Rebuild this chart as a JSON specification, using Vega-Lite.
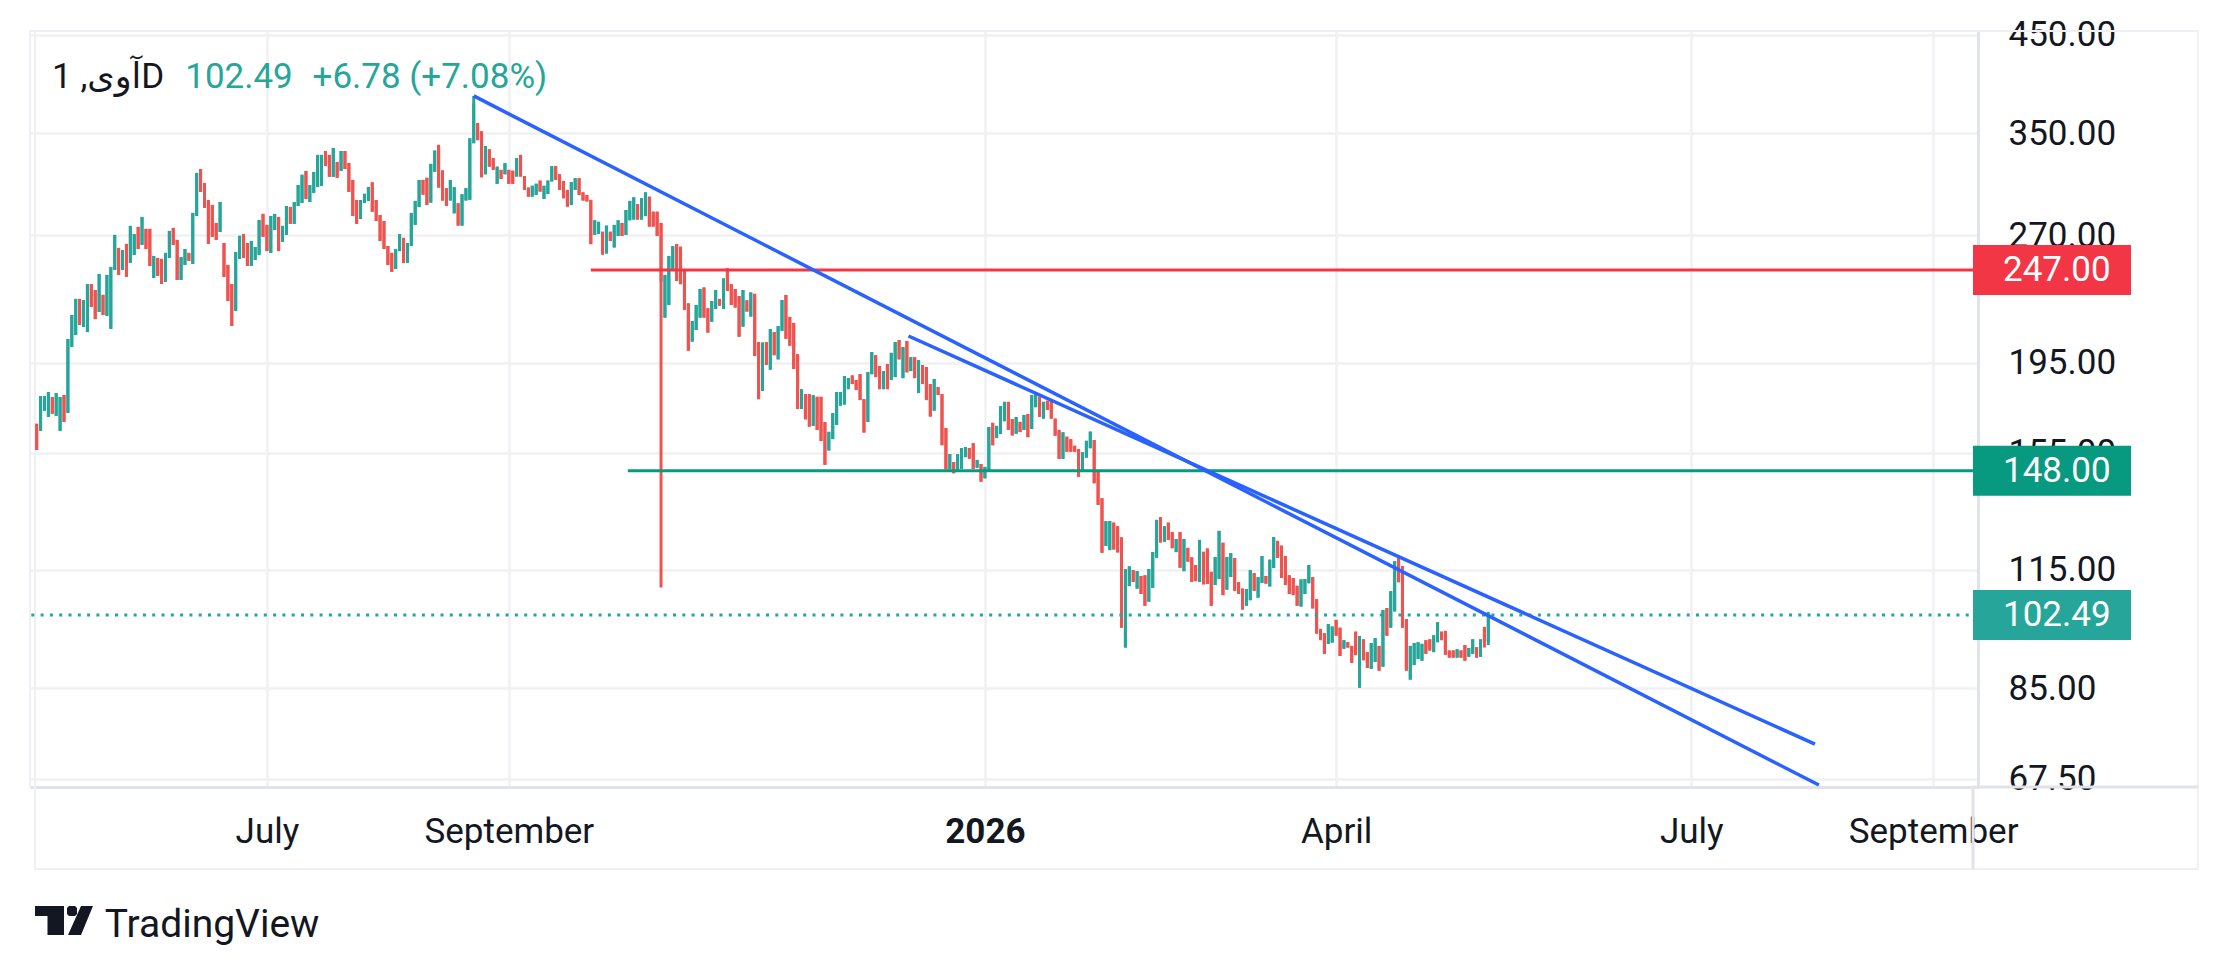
{
  "$schema": "https://vega.github.io/schema/vega-lite/v6.json",
  "width": 1948,
  "height": 756,
  "autosize": "none",
  "padding": {"left": 30, "top": 31, "right": 257, "bottom": 188},
  "background": "#ffffff",
  "config": {
    "font": "Roboto, DejaVu Sans, sans-serif",
    "view": {"stroke": "#eef0f4", "strokeWidth": 2},
    "axis": {
      "labelFont": "Roboto",
      "labelFontSize": 35,
      "labelColor": "#131722",
      "gridColor": "#f0f1f4",
      "gridWidth": 2.5,
      "domainColor": "#e0e3eb",
      "domainWidth": 3,
      "ticks": false,
      "tickSize": 0
    }
  },
  "datasets": {
    "bars": [
      {"date":"2025-05-03","open":166.9,"high":166.9,"low":156.1,"close":156.1},
      {"date":"2025-05-04","open":163.9,"high":179.1,"low":163.9,"close":179.1},
      {"date":"2025-05-05","open":172.5,"high":179.1,"low":172.5,"close":179.1},
      {"date":"2025-05-06","open":169.9,"high":181.0,"low":169.9,"close":181.0},
      {"date":"2025-05-07","open":178.7,"high":178.7,"low":171.2,"close":171.2},
      {"date":"2025-05-08","open":170.3,"high":180.5,"low":170.3,"close":180.5},
      {"date":"2025-05-09","open":163.9,"high":178.7,"low":163.9,"close":178.7},
      {"date":"2025-05-10","open":179.6,"high":179.6,"low":167.7,"close":167.7},
      {"date":"2025-05-11","open":171.6,"high":207.2,"low":171.6,"close":207.2},
      {"date":"2025-05-12","open":203.1,"high":220.3,"low":203.1,"close":220.3},
      {"date":"2025-05-13","open":209.3,"high":229.5,"low":209.3,"close":229.5},
      {"date":"2025-05-14","open":229.5,"high":229.5,"low":214.8,"close":214.8},
      {"date":"2025-05-15","open":213.7,"high":228.9,"low":213.7,"close":228.9},
      {"date":"2025-05-16","open":210.9,"high":238.4,"low":210.9,"close":238.4},
      {"date":"2025-05-17","open":238.4,"high":238.4,"low":224.9,"close":224.9},
      {"date":"2025-05-18","open":234.8,"high":234.8,"low":218.0,"close":218.0},
      {"date":"2025-05-19","open":222.0,"high":244.6,"low":222.0,"close":244.6},
      {"date":"2025-05-20","open":231.9,"high":231.9,"low":220.3,"close":220.3},
      {"date":"2025-05-21","open":219.7,"high":244.0,"low":219.7,"close":244.0},
      {"date":"2025-05-22","open":212.6,"high":249.0,"low":212.6,"close":249.0},
      {"date":"2025-05-23","open":247.1,"high":270.2,"low":247.1,"close":270.2},
      {"date":"2025-05-24","open":261.4,"high":261.4,"low":244.0,"close":244.0},
      {"date":"2025-05-25","open":247.1,"high":260.0,"low":247.1,"close":260.0},
      {"date":"2025-05-26","open":264.1,"high":264.1,"low":242.8,"close":242.8},
      {"date":"2025-05-27","open":251.6,"high":276.5,"low":251.6,"close":276.5},
      {"date":"2025-05-28","open":256.8,"high":270.8,"low":256.8,"close":270.8},
      {"date":"2025-05-29","open":275.8,"high":275.8,"low":260.7,"close":260.7},
      {"date":"2025-05-30","open":263.4,"high":282.9,"low":263.4,"close":282.9},
      {"date":"2025-05-31","open":274.4,"high":274.4,"low":260.7,"close":260.7},
      {"date":"2025-06-01","open":274.4,"high":274.4,"low":249.6,"close":249.6},
      {"date":"2025-06-02","open":242.1,"high":256.1,"low":242.1,"close":256.1},
      {"date":"2025-06-03","open":254.8,"high":254.8,"low":243.4,"close":243.4},
      {"date":"2025-06-04","open":254.2,"high":254.2,"low":238.4,"close":238.4},
      {"date":"2025-06-05","open":239.6,"high":258.1,"low":239.6,"close":258.1},
      {"date":"2025-06-06","open":254.8,"high":273.0,"low":254.8,"close":273.0},
      {"date":"2025-06-07","open":275.1,"high":275.1,"low":263.4,"close":263.4},
      {"date":"2025-06-08","open":266.8,"high":266.8,"low":240.9,"close":240.9},
      {"date":"2025-06-09","open":240.9,"high":255.4,"low":240.9,"close":255.4},
      {"date":"2025-06-10","open":250.3,"high":260.7,"low":250.3,"close":260.7},
      {"date":"2025-06-11","open":258.1,"high":258.1,"low":252.9,"close":252.9},
      {"date":"2025-06-12","open":250.9,"high":285.8,"low":250.9,"close":285.8},
      {"date":"2025-06-13","open":283.6,"high":316.5,"low":283.6,"close":316.5},
      {"date":"2025-06-14","open":319.7,"high":319.7,"low":301.5,"close":301.5},
      {"date":"2025-06-15","open":308.5,"high":308.5,"low":289.5,"close":289.5},
      {"date":"2025-06-16","open":295.4,"high":295.4,"low":264.1,"close":264.1},
      {"date":"2025-06-17","open":291.7,"high":291.7,"low":268.9,"close":268.9},
      {"date":"2025-06-18","open":278.6,"high":278.6,"low":266.8,"close":266.8},
      {"date":"2025-06-19","open":272.2,"high":293.9,"low":272.2,"close":293.9},
      {"date":"2025-06-20","open":264.7,"high":264.7,"low":242.8,"close":242.8},
      {"date":"2025-06-21","open":250.3,"high":250.3,"low":228.3,"close":228.3},
      {"date":"2025-06-22","open":238.4,"high":238.4,"low":214.2,"close":214.2},
      {"date":"2025-06-23","open":222.5,"high":258.7,"low":222.5,"close":258.7},
      {"date":"2025-06-24","open":254.2,"high":269.6,"low":254.2,"close":269.6},
      {"date":"2025-06-25","open":270.8,"high":270.8,"low":254.8,"close":254.8},
      {"date":"2025-06-26","open":264.7,"high":264.7,"low":249.6,"close":249.6},
      {"date":"2025-06-27","open":249.6,"high":266.1,"low":249.6,"close":266.1},
      {"date":"2025-06-28","open":253.5,"high":262.0,"low":253.5,"close":262.0},
      {"date":"2025-06-29","open":256.8,"high":280.7,"low":256.8,"close":280.7},
      {"date":"2025-06-30","open":285.1,"high":285.1,"low":268.9,"close":268.9},
      {"date":"2025-07-01","open":277.2,"high":277.2,"low":259.3,"close":259.3},
      {"date":"2025-07-02","open":258.1,"high":283.6,"low":258.1,"close":283.6},
      {"date":"2025-07-03","open":273.7,"high":285.1,"low":273.7,"close":285.1},
      {"date":"2025-07-04","open":282.9,"high":282.9,"low":259.3,"close":259.3},
      {"date":"2025-07-05","open":265.4,"high":276.5,"low":265.4,"close":276.5},
      {"date":"2025-07-06","open":270.2,"high":290.9,"low":270.2,"close":290.9},
      {"date":"2025-07-07","open":290.2,"high":290.2,"low":277.9,"close":277.9},
      {"date":"2025-07-08","open":277.9,"high":293.9,"low":277.9,"close":293.9},
      {"date":"2025-07-09","open":290.9,"high":306.9,"low":290.9,"close":306.9},
      {"date":"2025-07-10","open":293.2,"high":315.0,"low":293.2,"close":315.0},
      {"date":"2025-07-11","open":318.1,"high":318.1,"low":296.1,"close":296.1},
      {"date":"2025-07-12","open":293.9,"high":306.9,"low":293.9,"close":306.9},
      {"date":"2025-07-13","open":300.8,"high":317.3,"low":300.8,"close":317.3},
      {"date":"2025-07-14","open":305.4,"high":331.4,"low":305.4,"close":331.4},
      {"date":"2025-07-15","open":306.2,"high":331.4,"low":306.2,"close":331.4},
      {"date":"2025-07-16","open":334.7,"high":334.7,"low":322.1,"close":322.1},
      {"date":"2025-07-17","open":331.4,"high":331.4,"low":313.4,"close":313.4},
      {"date":"2025-07-18","open":313.4,"high":337.3,"low":313.4,"close":337.3},
      {"date":"2025-07-19","open":325.5,"high":325.5,"low":312.6,"close":312.6},
      {"date":"2025-07-20","open":318.1,"high":334.7,"low":318.1,"close":334.7},
      {"date":"2025-07-21","open":334.7,"high":334.7,"low":319.7,"close":319.7},
      {"date":"2025-07-22","open":324.6,"high":324.6,"low":301.5,"close":301.5},
      {"date":"2025-07-23","open":310.9,"high":310.9,"low":283.6,"close":283.6},
      {"date":"2025-07-24","open":295.4,"high":295.4,"low":277.9,"close":277.9},
      {"date":"2025-07-25","open":281.4,"high":295.4,"low":281.4,"close":295.4},
      {"date":"2025-07-26","open":293.2,"high":300.1,"low":293.2,"close":300.1},
      {"date":"2025-07-27","open":294.7,"high":305.4,"low":294.7,"close":305.4},
      {"date":"2025-07-28","open":309.0,"high":309.0,"low":286.6,"close":286.6},
      {"date":"2025-07-29","open":295.4,"high":295.4,"low":280.0,"close":280.0},
      {"date":"2025-07-30","open":284.3,"high":284.3,"low":266.1,"close":266.1},
      {"date":"2025-07-31","open":280.0,"high":280.0,"low":260.7,"close":260.7},
      {"date":"2025-08-01","open":262.7,"high":262.7,"low":250.3,"close":250.3},
      {"date":"2025-08-02","open":258.1,"high":258.1,"low":245.9,"close":245.9},
      {"date":"2025-08-03","open":247.7,"high":260.7,"low":247.7,"close":260.7},
      {"date":"2025-08-04","open":259.3,"high":270.8,"low":259.3,"close":270.8},
      {"date":"2025-08-05","open":268.2,"high":268.2,"low":251.6,"close":251.6},
      {"date":"2025-08-06","open":251.6,"high":264.7,"low":251.6,"close":264.7},
      {"date":"2025-08-07","open":262.7,"high":285.8,"low":262.7,"close":285.8},
      {"date":"2025-08-08","open":277.2,"high":294.7,"low":277.2,"close":294.7},
      {"date":"2025-08-09","open":290.2,"high":310.9,"low":290.2,"close":310.9},
      {"date":"2025-08-10","open":310.9,"high":310.9,"low":299.4,"close":299.4},
      {"date":"2025-08-11","open":312.6,"high":312.6,"low":291.7,"close":291.7},
      {"date":"2025-08-12","open":293.4,"high":323.9,"low":293.4,"close":323.9},
      {"date":"2025-08-13","open":317.4,"high":335.1,"low":317.4,"close":335.1},
      {"date":"2025-08-14","open":340.0,"high":340.0,"low":304.9,"close":304.9},
      {"date":"2025-08-15","open":318.5,"high":318.5,"low":295.0,"close":295.0},
      {"date":"2025-08-16","open":304.4,"high":304.4,"low":290.9,"close":290.9},
      {"date":"2025-08-17","open":295.0,"high":310.9,"low":295.0,"close":310.9},
      {"date":"2025-08-18","open":285.5,"high":305.2,"low":285.5,"close":305.2},
      {"date":"2025-08-19","open":292.9,"high":292.9,"low":276.7,"close":276.7},
      {"date":"2025-08-20","open":276.7,"high":299.7,"low":276.7,"close":299.7},
      {"date":"2025-08-21","open":295.0,"high":304.4,"low":295.0,"close":304.4},
      {"date":"2025-08-22","open":295.5,"high":345.7,"low":295.5,"close":345.7},
      {"date":"2025-08-23","open":341.4,"high":385.2,"low":341.4,"close":378.0},
      {"date":"2025-08-24","open":359.5,"high":359.5,"low":344.1,"close":344.1},
      {"date":"2025-08-25","open":352.0,"high":352.0,"low":313.0,"close":313.0},
      {"date":"2025-08-26","open":315.4,"high":338.9,"low":315.4,"close":338.9},
      {"date":"2025-08-27","open":336.2,"high":336.2,"low":321.6,"close":321.6},
      {"date":"2025-08-28","open":328.6,"high":328.6,"low":319.0,"close":319.0},
      {"date":"2025-08-29","open":307.8,"high":321.6,"low":307.8,"close":321.6},
      {"date":"2025-08-30","open":319.0,"high":319.0,"low":311.7,"close":311.7},
      {"date":"2025-08-31","open":315.4,"high":324.4,"low":315.4,"close":324.4},
      {"date":"2025-09-01","open":319.0,"high":319.0,"low":307.8,"close":307.8},
      {"date":"2025-09-02","open":318.3,"high":318.3,"low":307.8,"close":307.8},
      {"date":"2025-09-03","open":313.6,"high":328.6,"low":313.6,"close":328.6},
      {"date":"2025-09-04","open":331.4,"high":331.4,"low":313.6,"close":313.6},
      {"date":"2025-09-05","open":314.0,"high":314.0,"low":303.0,"close":303.0},
      {"date":"2025-09-06","open":304.9,"high":304.9,"low":297.9,"close":297.9},
      {"date":"2025-09-07","open":297.9,"high":306.3,"low":297.9,"close":306.3},
      {"date":"2025-09-08","open":299.2,"high":307.9,"low":299.2,"close":307.9},
      {"date":"2025-09-09","open":310.4,"high":310.4,"low":301.8,"close":301.8},
      {"date":"2025-09-10","open":296.2,"high":306.3,"low":296.2,"close":306.3},
      {"date":"2025-09-11","open":300.0,"high":310.4,"low":300.0,"close":310.4},
      {"date":"2025-09-12","open":309.7,"high":322.0,"low":309.7,"close":322.0},
      {"date":"2025-09-13","open":322.0,"high":322.0,"low":310.9,"close":310.9},
      {"date":"2025-09-14","open":315.4,"high":315.4,"low":303.1,"close":303.1},
      {"date":"2025-09-15","open":310.1,"high":310.1,"low":296.7,"close":296.7},
      {"date":"2025-09-16","open":303.1,"high":303.1,"low":290.4,"close":290.4},
      {"date":"2025-09-17","open":291.6,"high":309.2,"low":291.6,"close":309.2},
      {"date":"2025-09-18","open":303.1,"high":312.3,"low":303.1,"close":312.3},
      {"date":"2025-09-19","open":312.3,"high":312.3,"low":299.2,"close":299.2},
      {"date":"2025-09-20","open":301.2,"high":301.2,"low":295.0,"close":295.0},
      {"date":"2025-09-21","open":299.2,"high":299.2,"low":294.3,"close":294.3},
      {"date":"2025-09-22","open":295.5,"high":295.5,"low":263.9,"close":263.9},
      {"date":"2025-09-23","open":270.2,"high":280.5,"low":270.2,"close":280.5},
      {"date":"2025-09-24","open":270.9,"high":279.4,"low":270.9,"close":279.4},
      {"date":"2025-09-25","open":272.4,"high":272.4,"low":257.0,"close":257.0},
      {"date":"2025-09-26","open":257.7,"high":276.7,"low":257.7,"close":276.7},
      {"date":"2025-09-27","open":272.4,"high":272.4,"low":266.0,"close":266.0},
      {"date":"2025-09-28","open":261.7,"high":277.2,"low":261.7,"close":277.2},
      {"date":"2025-09-29","open":269.5,"high":280.5,"low":269.5,"close":280.5},
      {"date":"2025-09-30","open":278.6,"high":278.6,"low":269.5,"close":269.5},
      {"date":"2025-10-01","open":270.2,"high":287.9,"low":270.2,"close":287.9},
      {"date":"2025-10-02","open":280.5,"high":294.7,"low":280.5,"close":294.7},
      {"date":"2025-10-03","open":281.0,"high":297.4,"low":281.0,"close":297.4},
      {"date":"2025-10-04","open":292.4,"high":292.4,"low":281.0,"close":281.0},
      {"date":"2025-10-05","open":281.0,"high":296.7,"low":281.0,"close":296.7},
      {"date":"2025-10-06","open":283.5,"high":301.2,"low":283.5,"close":301.2},
      {"date":"2025-10-07","open":297.9,"high":297.9,"low":276.0,"close":276.0},
      {"date":"2025-10-08","open":286.7,"high":286.7,"low":276.0,"close":276.0},
      {"date":"2025-10-09","open":286.7,"high":286.7,"low":269.5,"close":269.5},
      {"date":"2025-10-10","open":278.6,"high":278.6,"low":109.9,"close":240.0},
      {"date":"2025-10-11","open":218.8,"high":244.0,"low":218.8,"close":244.0},
      {"date":"2025-10-12","open":226.0,"high":256.1,"low":226.0,"close":256.1},
      {"date":"2025-10-13","open":247.1,"high":262.6,"low":247.1,"close":262.6},
      {"date":"2025-10-14","open":264.0,"high":264.0,"low":240.2,"close":240.2},
      {"date":"2025-10-15","open":262.2,"high":262.2,"low":238.3,"close":238.3},
      {"date":"2025-10-16","open":247.1,"high":247.1,"low":223.1,"close":223.1},
      {"date":"2025-10-17","open":226.9,"high":226.9,"low":201.1,"close":201.1},
      {"date":"2025-10-18","open":205.8,"high":216.9,"low":205.8,"close":216.9},
      {"date":"2025-10-19","open":212.0,"high":226.0,"low":212.0,"close":226.0},
      {"date":"2025-10-20","open":218.8,"high":235.4,"low":218.8,"close":235.4},
      {"date":"2025-10-21","open":236.3,"high":236.3,"low":218.8,"close":218.8},
      {"date":"2025-10-22","open":224.1,"high":224.1,"low":210.6,"close":210.6},
      {"date":"2025-10-23","open":216.5,"high":228.3,"low":216.5,"close":228.3},
      {"date":"2025-10-24","open":223.7,"high":234.8,"low":223.7,"close":234.8},
      {"date":"2025-10-25","open":229.5,"high":229.5,"low":225.6,"close":225.6},
      {"date":"2025-10-26","open":223.7,"high":241.8,"low":223.7,"close":241.8},
      {"date":"2025-10-27","open":248.1,"high":248.1,"low":234.2,"close":234.2},
      {"date":"2025-10-28","open":238.3,"high":238.3,"low":226.0,"close":226.0},
      {"date":"2025-10-29","open":235.4,"high":235.4,"low":224.5,"close":224.5},
      {"date":"2025-10-30","open":231.2,"high":231.2,"low":208.4,"close":208.4},
      {"date":"2025-10-31","open":213.8,"high":234.8,"low":213.8,"close":234.8},
      {"date":"2025-11-01","open":228.7,"high":228.7,"low":222.2,"close":222.2},
      {"date":"2025-11-02","open":219.4,"high":233.3,"low":219.4,"close":233.3},
      {"date":"2025-11-03","open":232.5,"high":232.5,"low":198.4,"close":198.4},
      {"date":"2025-11-04","open":205.6,"high":205.6,"low":177.7,"close":177.7},
      {"date":"2025-11-05","open":181.5,"high":205.3,"low":181.5,"close":205.3},
      {"date":"2025-11-06","open":205.6,"high":205.6,"low":193.9,"close":193.9},
      {"date":"2025-11-07","open":191.6,"high":212.5,"low":191.6,"close":212.5},
      {"date":"2025-11-08","open":210.9,"high":210.9,"low":198.8,"close":198.8},
      {"date":"2025-11-09","open":196.7,"high":214.1,"low":196.7,"close":214.1},
      {"date":"2025-11-10","open":211.6,"high":228.9,"low":211.6,"close":228.9},
      {"date":"2025-11-11","open":231.8,"high":231.8,"low":207.3,"close":207.3},
      {"date":"2025-11-12","open":219.2,"high":219.2,"low":203.7,"close":203.7},
      {"date":"2025-11-13","open":215.9,"high":215.9,"low":191.9,"close":191.9},
      {"date":"2025-11-14","open":199.3,"high":199.3,"low":173.3,"close":173.3},
      {"date":"2025-11-15","open":173.3,"high":182.3,"low":173.3,"close":182.3},
      {"date":"2025-11-16","open":180.0,"high":180.0,"low":168.8,"close":168.8},
      {"date":"2025-11-17","open":180.0,"high":180.0,"low":165.7,"close":165.7},
      {"date":"2025-11-18","open":166.0,"high":179.5,"low":166.0,"close":179.5},
      {"date":"2025-11-19","open":178.8,"high":178.8,"low":164.3,"close":164.3},
      {"date":"2025-11-20","open":178.8,"high":178.8,"low":159.7,"close":159.7},
      {"date":"2025-11-21","open":167.6,"high":167.6,"low":150.3,"close":150.3},
      {"date":"2025-11-22","open":155.9,"high":163.5,"low":155.9,"close":163.5},
      {"date":"2025-11-23","open":160.5,"high":171.5,"low":160.5,"close":171.5},
      {"date":"2025-11-24","open":166.4,"high":181.0,"low":166.4,"close":181.0},
      {"date":"2025-11-25","open":174.8,"high":181.0,"low":174.8,"close":181.0},
      {"date":"2025-11-26","open":175.3,"high":188.5,"low":175.3,"close":188.5},
      {"date":"2025-11-27","open":182.3,"high":187.5,"low":182.3,"close":187.5},
      {"date":"2025-11-28","open":188.8,"high":188.8,"low":184.7,"close":184.7},
      {"date":"2025-11-29","open":186.6,"high":186.6,"low":181.9,"close":181.9},
      {"date":"2025-11-30","open":189.4,"high":189.4,"low":177.3,"close":177.3},
      {"date":"2025-12-01","open":177.7,"high":177.7,"low":163.2,"close":163.2},
      {"date":"2025-12-02","open":167.7,"high":190.4,"low":167.7,"close":190.4},
      {"date":"2025-12-03","open":189.4,"high":200.4,"low":189.4,"close":200.4},
      {"date":"2025-12-04","open":198.8,"high":198.8,"low":188.0,"close":188.0},
      {"date":"2025-12-05","open":193.4,"high":193.4,"low":182.3,"close":182.3},
      {"date":"2025-12-06","open":182.3,"high":190.9,"low":182.3,"close":190.9},
      {"date":"2025-12-07","open":194.4,"high":194.4,"low":182.3,"close":182.3},
      {"date":"2025-12-08","open":186.6,"high":200.0,"low":186.6,"close":200.0},
      {"date":"2025-12-09","open":188.0,"high":205.6,"low":188.0,"close":205.6},
      {"date":"2025-12-10","open":206.6,"high":206.6,"low":196.7,"close":196.7},
      {"date":"2025-12-11","open":187.5,"high":203.0,"low":187.5,"close":203.0},
      {"date":"2025-12-12","open":206.1,"high":206.1,"low":190.3,"close":190.3},
      {"date":"2025-12-13","open":190.9,"high":197.8,"low":190.9,"close":197.8},
      {"date":"2025-12-14","open":197.8,"high":197.8,"low":187.5,"close":187.5},
      {"date":"2025-12-15","open":180.5,"high":196.3,"low":180.5,"close":196.3},
      {"date":"2025-12-16","open":193.9,"high":193.9,"low":184.7,"close":184.7},
      {"date":"2025-12-17","open":192.9,"high":192.9,"low":177.3,"close":177.3},
      {"date":"2025-12-18","open":184.7,"high":184.7,"low":170.0,"close":170.0},
      {"date":"2025-12-19","open":172.6,"high":187.1,"low":172.6,"close":187.1},
      {"date":"2025-12-20","open":183.3,"high":183.3,"low":179.6,"close":179.6},
      {"date":"2025-12-21","open":180.0,"high":180.0,"low":158.0,"close":158.0},
      {"date":"2025-12-22","open":165.1,"high":165.1,"low":148.6,"close":148.6},
      {"date":"2025-12-23","open":148.6,"high":154.5,"low":148.6,"close":154.5},
      {"date":"2025-12-24","open":151.4,"high":151.4,"low":147.1,"close":147.1},
      {"date":"2025-12-25","open":148.1,"high":154.5,"low":148.1,"close":154.5},
      {"date":"2025-12-26","open":148.8,"high":156.9,"low":148.8,"close":156.9},
      {"date":"2025-12-27","open":153.3,"high":157.3,"low":153.3,"close":157.3},
      {"date":"2025-12-28","open":156.9,"high":156.9,"low":152.7,"close":152.7},
      {"date":"2025-12-29","open":158.8,"high":158.8,"low":148.7,"close":148.7},
      {"date":"2025-12-30","open":149.2,"high":152.2,"low":149.2,"close":152.2},
      {"date":"2025-12-31","open":150.6,"high":150.6,"low":144.0,"close":144.0},
      {"date":"2026-01-01","open":145.2,"high":149.5,"low":145.2,"close":149.5},
      {"date":"2026-01-02","open":148.3,"high":165.5,"low":148.3,"close":165.5},
      {"date":"2026-01-03","open":167.3,"high":167.3,"low":158.0,"close":158.0},
      {"date":"2026-01-04","open":160.9,"high":166.0,"low":160.9,"close":166.0},
      {"date":"2026-01-05","open":162.6,"high":174.6,"low":162.6,"close":174.6},
      {"date":"2026-01-06","open":168.0,"high":176.5,"low":168.0,"close":176.5},
      {"date":"2026-01-07","open":176.5,"high":176.5,"low":164.3,"close":164.3},
      {"date":"2026-01-08","open":168.9,"high":168.9,"low":162.0,"close":162.0},
      {"date":"2026-01-09","open":162.7,"high":169.8,"low":162.7,"close":169.8},
      {"date":"2026-01-10","open":167.7,"high":167.7,"low":163.4,"close":163.4},
      {"date":"2026-01-11","open":164.3,"high":170.7,"low":164.3,"close":170.7},
      {"date":"2026-01-12","open":171.1,"high":171.1,"low":161.3,"close":161.3},
      {"date":"2026-01-13","open":164.7,"high":179.6,"low":164.7,"close":179.6},
      {"date":"2026-01-14","open":174.1,"high":180.0,"low":174.1,"close":180.0},
      {"date":"2026-01-15","open":178.8,"high":178.8,"low":169.9,"close":169.9},
      {"date":"2026-01-16","open":169.1,"high":176.5,"low":169.1,"close":176.5},
      {"date":"2026-01-17","open":177.0,"high":177.0,"low":172.9,"close":172.9},
      {"date":"2026-01-18","open":177.0,"high":177.0,"low":169.1,"close":169.1},
      {"date":"2026-01-19","open":169.1,"high":169.1,"low":161.9,"close":161.9},
      {"date":"2026-01-20","open":164.3,"high":164.3,"low":152.6,"close":152.6},
      {"date":"2026-01-21","open":152.6,"high":163.3,"low":152.6,"close":163.3},
      {"date":"2026-01-22","open":161.5,"high":161.5,"low":155.4,"close":155.4},
      {"date":"2026-01-23","open":160.5,"high":160.5,"low":155.4,"close":155.4},
      {"date":"2026-01-24","open":157.8,"high":157.8,"low":155.4,"close":155.4},
      {"date":"2026-01-25","open":156.5,"high":156.5,"low":145.8,"close":145.8},
      {"date":"2026-01-26","open":147.7,"high":155.2,"low":147.7,"close":155.2},
      {"date":"2026-01-27","open":153.1,"high":159.8,"low":153.1,"close":159.8},
      {"date":"2026-01-28","open":156.8,"high":163.6,"low":156.8,"close":163.6},
      {"date":"2026-01-29","open":160.1,"high":160.1,"low":143.4,"close":143.4},
      {"date":"2026-01-30","open":147.6,"high":147.6,"low":135.7,"close":135.7},
      {"date":"2026-01-31","open":138.0,"high":138.0,"low":120.1,"close":120.1},
      {"date":"2026-02-01","open":122.2,"high":130.2,"low":122.2,"close":130.2},
      {"date":"2026-02-02","open":120.9,"high":130.2,"low":120.9,"close":130.2},
      {"date":"2026-02-03","open":129.7,"high":129.7,"low":121.1,"close":121.1},
      {"date":"2026-02-04","open":128.5,"high":128.5,"low":120.2,"close":120.2},
      {"date":"2026-02-05","open":124.9,"high":124.9,"low":99.2,"close":99.2},
      {"date":"2026-02-06","open":94.3,"high":115.2,"low":94.3,"close":115.2},
      {"date":"2026-02-07","open":110.3,"high":116.0,"low":110.3,"close":116.0},
      {"date":"2026-02-08","open":114.9,"high":114.9,"low":111.5,"close":111.5},
      {"date":"2026-02-09","open":109.6,"high":114.6,"low":109.6,"close":114.6},
      {"date":"2026-02-10","open":113.2,"high":113.2,"low":108.1,"close":108.1},
      {"date":"2026-02-11","open":113.4,"high":113.4,"low":104.9,"close":104.9},
      {"date":"2026-02-12","open":106.0,"high":115.2,"low":106.0,"close":115.2},
      {"date":"2026-02-13","open":109.8,"high":120.3,"low":109.8,"close":120.3},
      {"date":"2026-02-14","open":118.6,"high":130.6,"low":118.6,"close":130.6},
      {"date":"2026-02-15","open":131.5,"high":131.5,"low":123.3,"close":123.3},
      {"date":"2026-02-16","open":123.5,"high":128.5,"low":123.5,"close":128.5},
      {"date":"2026-02-17","open":129.7,"high":129.7,"low":124.1,"close":124.1},
      {"date":"2026-02-18","open":126.6,"high":126.6,"low":121.5,"close":121.5},
      {"date":"2026-02-19","open":120.3,"high":124.4,"low":120.3,"close":124.4},
      {"date":"2026-02-20","open":126.6,"high":126.6,"low":115.6,"close":115.6},
      {"date":"2026-02-21","open":114.6,"high":124.4,"low":114.6,"close":124.4},
      {"date":"2026-02-22","open":121.6,"high":121.6,"low":117.4,"close":117.4},
      {"date":"2026-02-23","open":118.7,"high":118.7,"low":111.5,"close":111.5},
      {"date":"2026-02-24","open":116.4,"high":116.4,"low":111.7,"close":111.7},
      {"date":"2026-02-25","open":111.5,"high":124.1,"low":111.5,"close":124.1},
      {"date":"2026-02-26","open":120.4,"high":120.4,"low":110.8,"close":110.8},
      {"date":"2026-02-27","open":121.4,"high":121.4,"low":110.9,"close":110.9},
      {"date":"2026-02-28","open":114.4,"high":114.4,"low":104.9,"close":104.9},
      {"date":"2026-03-01","open":110.6,"high":118.8,"low":110.6,"close":118.8},
      {"date":"2026-03-02","open":112.3,"high":127.0,"low":112.3,"close":127.0},
      {"date":"2026-03-03","open":123.2,"high":123.2,"low":107.8,"close":107.8},
      {"date":"2026-03-04","open":109.3,"high":118.8,"low":109.3,"close":118.8},
      {"date":"2026-03-05","open":112.9,"high":120.0,"low":112.9,"close":120.0},
      {"date":"2026-03-06","open":118.5,"high":118.5,"low":109.0,"close":109.0},
      {"date":"2026-03-07","open":111.4,"high":111.4,"low":108.1,"close":108.1},
      {"date":"2026-03-08","open":109.6,"high":109.6,"low":103.9,"close":103.9},
      {"date":"2026-03-09","open":104.9,"high":109.5,"low":104.9,"close":109.5},
      {"date":"2026-03-10","open":106.4,"high":114.9,"low":106.4,"close":114.9},
      {"date":"2026-03-11","open":114.0,"high":114.0,"low":109.0,"close":109.0},
      {"date":"2026-03-12","open":107.1,"high":112.9,"low":107.1,"close":112.9},
      {"date":"2026-03-13","open":111.2,"high":119.1,"low":111.2,"close":119.1},
      {"date":"2026-03-14","open":113.2,"high":113.2,"low":111.0,"close":111.0},
      {"date":"2026-03-15","open":110.2,"high":118.0,"low":110.2,"close":118.0},
      {"date":"2026-03-16","open":115.5,"high":125.0,"low":115.5,"close":125.0},
      {"date":"2026-03-17","open":123.8,"high":123.8,"low":118.5,"close":118.5},
      {"date":"2026-03-18","open":122.3,"high":122.3,"low":112.6,"close":112.6},
      {"date":"2026-03-19","open":119.1,"high":119.1,"low":110.6,"close":110.6},
      {"date":"2026-03-20","open":113.4,"high":113.4,"low":108.1,"close":108.1},
      {"date":"2026-03-21","open":112.6,"high":112.6,"low":107.8,"close":107.8},
      {"date":"2026-03-22","open":110.4,"high":110.4,"low":104.9,"close":104.9},
      {"date":"2026-03-23","open":104.7,"high":112.2,"low":104.7,"close":112.2},
      {"date":"2026-03-24","open":108.1,"high":112.3,"low":108.1,"close":112.3},
      {"date":"2026-03-25","open":111.1,"high":116.4,"low":111.1,"close":116.4},
      {"date":"2026-03-26","open":112.9,"high":112.9,"low":104.2,"close":104.2},
      {"date":"2026-03-27","open":106.7,"high":106.7,"low":97.7,"close":97.7},
      {"date":"2026-03-28","open":98.9,"high":98.9,"low":96.1,"close":96.1},
      {"date":"2026-03-29","open":97.8,"high":97.8,"low":92.8,"close":92.8},
      {"date":"2026-03-30","open":95.2,"high":100.1,"low":95.2,"close":100.1},
      {"date":"2026-03-31","open":95.5,"high":99.5,"low":95.5,"close":99.5},
      {"date":"2026-04-01","open":101.2,"high":101.2,"low":97.2,"close":97.2},
      {"date":"2026-04-02","open":99.2,"high":99.2,"low":92.3,"close":92.3},
      {"date":"2026-04-03","open":94.0,"high":96.1,"low":94.0,"close":96.1},
      {"date":"2026-04-04","open":95.6,"high":95.6,"low":94.3,"close":94.3},
      {"date":"2026-04-05","open":94.7,"high":94.7,"low":90.7,"close":90.7},
      {"date":"2026-04-06","open":98.2,"high":98.2,"low":92.5,"close":92.5},
      {"date":"2026-04-07","open":85.1,"high":97.1,"low":85.1,"close":97.1},
      {"date":"2026-04-08","open":96.3,"high":96.3,"low":91.3,"close":91.3},
      {"date":"2026-04-09","open":93.2,"high":93.2,"low":89.5,"close":89.5},
      {"date":"2026-04-10","open":89.3,"high":95.4,"low":89.3,"close":95.4},
      {"date":"2026-04-11","open":90.9,"high":96.6,"low":90.9,"close":96.6},
      {"date":"2026-04-12","open":94.7,"high":94.7,"low":88.9,"close":88.9},
      {"date":"2026-04-13","open":89.8,"high":103.8,"low":89.8,"close":103.8},
      {"date":"2026-04-14","open":104.3,"high":104.3,"low":97.2,"close":97.2},
      {"date":"2026-04-15","open":99.2,"high":108.9,"low":99.2,"close":108.9},
      {"date":"2026-04-16","open":103.4,"high":117.6,"low":103.4,"close":117.6},
      {"date":"2026-04-17","open":118.8,"high":118.8,"low":111.4,"close":111.4},
      {"date":"2026-04-18","open":116.1,"high":116.1,"low":99.2,"close":99.2},
      {"date":"2026-04-19","open":101.4,"high":101.4,"low":88.9,"close":88.9},
      {"date":"2026-04-20","open":86.9,"high":94.7,"low":86.9,"close":94.7},
      {"date":"2026-04-21","open":90.2,"high":95.4,"low":90.2,"close":95.4},
      {"date":"2026-04-22","open":91.6,"high":95.6,"low":91.6,"close":95.6},
      {"date":"2026-04-23","open":91.2,"high":95.2,"low":91.2,"close":95.2},
      {"date":"2026-04-24","open":96.1,"high":96.1,"low":92.8,"close":92.8},
      {"date":"2026-04-25","open":96.3,"high":96.3,"low":93.6,"close":93.6},
      {"date":"2026-04-26","open":93.2,"high":97.3,"low":93.2,"close":97.3},
      {"date":"2026-04-27","open":95.6,"high":100.6,"low":95.6,"close":100.6},
      {"date":"2026-04-28","open":98.2,"high":98.2,"low":96.1,"close":96.1},
      {"date":"2026-04-29","open":98.4,"high":98.4,"low":92.6,"close":92.6},
      {"date":"2026-04-30","open":93.6,"high":93.6,"low":91.9,"close":91.9},
      {"date":"2026-05-01","open":93.6,"high":93.6,"low":91.9,"close":91.9},
      {"date":"2026-05-02","open":91.9,"high":93.9,"low":91.9,"close":93.9},
      {"date":"2026-05-03","open":93.6,"high":93.6,"low":91.9,"close":91.9},
      {"date":"2026-05-04","open":94.9,"high":94.9,"low":91.2,"close":91.2},
      {"date":"2026-05-05","open":92.1,"high":94.2,"low":92.1,"close":94.2},
      {"date":"2026-05-06","open":92.8,"high":96.3,"low":92.8,"close":96.3},
      {"date":"2026-05-07","open":94.4,"high":94.4,"low":91.9,"close":91.9},
      {"date":"2026-05-08","open":92.1,"high":96.3,"low":92.1,"close":96.3},
      {"date":"2026-05-09","open":99.4,"high":99.4,"low":94.3,"close":95.71},
      {"date":"2026-05-10","open":95.71,"high":103.3,"low":94.9,"close":102.49}
    ],
    "levels": [
      {"kind": "resistance", "price": 247, "from": "2025-09-22T00:00:00Z", "to": "2026-09-11T05:00:00Z"},
      {"kind": "support", "price": 148, "from": "2025-10-01T12:00:00Z", "to": "2026-09-11T05:00:00Z"},
      {"kind": "last", "price": 102.49}
    ],
    "trend": [
      {"line": "from peak", "date": "2025-08-23T00:00:00Z", "price": 385.2},
      {"line": "from peak", "date": "2026-08-02T17:00:00Z", "price": 66.4},
      {"line": "from december", "date": "2025-12-12T10:00:00Z", "price": 208.8},
      {"line": "from december", "date": "2026-08-01T17:00:00Z", "price": 73.7}
    ],
    "legend": [
      {"symbol": "آوی, 1D", "last": "102.49", "change": "+6.78 (+7.08%)", "brand": "TradingView"}
    ]
  },
  "layer": [
    {
      "data": {"values": [{"panel": "chart"}]},
      "layer": [
        {
          "mark": {"type": "rect", "fill": null, "stroke": "#eef0f4", "strokeWidth": 2},
          "encoding": {
            "x": {"datum": {"year": 2025, "month": 5, "date": 2, "hours": 13, "minutes": 40, "utc": true}, "type": "temporal"},
            "x2": {"datum": {"year": 2026, "month": 11, "date": 7, "hours": 19, "minutes": 30, "utc": true}},
            "y": {"datum": 454.6, "type": "quantitative"},
            "y2": {"datum": 53.61}
          }
        },
        {
          "mark": {"type": "rule", "stroke": "#e0e3eb", "strokeWidth": 3},
          "encoding": {
            "x": {"datum": {"year": 2026, "month": 9, "date": 11, "hours": 5, "utc": true}, "type": "temporal"},
            "y": {"datum": 66.07, "type": "quantitative"},
            "y2": {"datum": 53.61}
          }
        },
        {
          "mark": {"type": "rule", "stroke": "#e0e3eb", "strokeWidth": 3},
          "encoding": {
            "x": {"datum": {"year": 2026, "month": 9, "date": 11, "hours": 5, "utc": true}, "type": "temporal"},
            "x2": {"datum": {"year": 2026, "month": 11, "date": 7, "hours": 19, "minutes": 30, "utc": true}},
            "y": {"datum": 66.07, "type": "quantitative"}
          }
        }
      ]
    },
    {
      "data": {"name": "bars"},
      "encoding": {
        "x": {
          "field": "date",
          "type": "temporal",
          "title": null,
          "scale": {
            "type": "utc",
            "domain": [
              {"year": 2025, "month": 5, "date": 2, "hours": 13, "minutes": 40, "utc": true},
              {"year": 2026, "month": 9, "date": 11, "hours": 5, "utc": true}
            ]
          },
          "axis": {
            "orient": "bottom",
            "title": null,
            "grid": true,
            "values": [
              {"year": 2025, "month": 7, "date": 1, "utc": true},
              {"year": 2025, "month": 9, "date": 1, "utc": true},
              {"year": 2026, "month": 1, "date": 1, "utc": true},
              {"year": 2026, "month": 4, "date": 1, "utc": true},
              {"year": 2026, "month": 7, "date": 1, "utc": true},
              {"year": 2026, "month": 9, "date": 1, "utc": true}
            ],
            "labelExpr": "utcmonth(datum.value) == 0 ? utcFormat(datum.value, '%Y') : utcFormat(datum.value, '%B')",
            "labelFontWeight": {"condition": {"test": "utcmonth(datum.value) == 0", "value": "bold"}, "value": "normal"},
            "labelAngle": 0,
            "labelPadding": 55,
            "labelBaseline": "alphabetic",
            "labelFlush": false,
            "labelOverlap": false
          }
        },
        "y": {
          "field": "low",
          "type": "quantitative",
          "title": null,
          "scale": {"type": "log", "domain": [66.07, 454.6], "nice": false, "zero": false},
          "axis": {
            "orient": "right",
            "title": null,
            "grid": true,
            "values": [67.5, 85, 115, 155, 195, 270, 350, 450],
            "format": ".2f",
            "labelPadding": 30,
            "labelAlign": "left",
            "labelBaseline": "middle",
            "labelFlush": false,
            "labelOverlap": false
          }
        },
        "color": {
          "condition": {"test": "datum.close >= datum.open", "value": "#26a69a"},
          "value": "#ef5350"
        }
      },
      "layer": [
        {
          "mark": {"type": "rule", "strokeWidth": 3},
          "encoding": {"y2": {"field": "high"}}
        },
        {
          "mark": {"type": "bar", "size": 3},
          "encoding": {
            "y": {"field": "open", "type": "quantitative", "title": null},
            "y2": {"field": "close"}
          }
        }
      ]
    },
    {
      "data": {"name": "levels"},
      "transform": [{"filter": "datum.kind != 'last'"}],
      "mark": {"type": "rule", "strokeWidth": 3},
      "encoding": {
        "x": {"field": "from", "type": "temporal", "title": null},
        "x2": {"field": "to"},
        "y": {"field": "price", "type": "quantitative", "title": null},
        "color": {
          "field": "kind",
          "type": "nominal",
          "scale": {"domain": ["resistance", "support", "last"], "range": ["#f23645", "#089981", "#26a69a"]},
          "legend": null
        }
      }
    },
    {
      "data": {"name": "levels"},
      "transform": [{"filter": "datum.kind == 'last'"}],
      "mark": {"type": "rule", "strokeWidth": 3, "strokeDash": [3, 6.3]},
      "encoding": {
        "y": {"field": "price", "type": "quantitative", "title": null},
        "color": {
          "field": "kind",
          "type": "nominal",
          "scale": {"domain": ["resistance", "support", "last"], "range": ["#f23645", "#089981", "#26a69a"]},
          "legend": null
        }
      }
    },
    {
      "data": {"name": "trend"},
      "mark": {"type": "line", "color": "#2962ff", "strokeWidth": 3.5},
      "encoding": {
        "x": {"field": "date", "type": "temporal", "title": null},
        "y": {"field": "price", "type": "quantitative", "title": null},
        "detail": {"field": "line", "type": "nominal"}
      }
    },
    {
      "data": {"name": "levels"},
      "mark": {
        "type": "point",
        "shape": "M0,-1H6.32V1H0Z",
        "size": 2500,
        "filled": true,
        "opacity": 1,
        "strokeWidth": 0
      },
      "encoding": {
        "x": {"datum": {"year": 2026, "month": 9, "date": 11, "hours": 5, "utc": true}, "type": "temporal"},
        "y": {"field": "price", "type": "quantitative", "title": null},
        "color": {
          "field": "kind",
          "type": "nominal",
          "scale": {"domain": ["resistance", "support", "last"], "range": ["#f23645", "#089981", "#26a69a"]},
          "legend": null
        }
      }
    },
    {
      "data": {"name": "levels"},
      "mark": {
        "type": "text",
        "align": "left",
        "baseline": "middle",
        "dx": 30,
        "fontSize": 35,
        "font": "Roboto",
        "color": "#ffffff"
      },
      "encoding": {
        "x": {"datum": {"year": 2026, "month": 9, "date": 11, "hours": 5, "utc": true}, "type": "temporal"},
        "y": {"field": "price", "type": "quantitative", "title": null},
        "text": {"field": "price", "type": "quantitative", "format": ".2f"}
      }
    },
    {
      "data": {"name": "legend"},
      "layer": [
        {
          "mark": {"type": "text", "align": "right", "baseline": "alphabetic", "fontSize": 35, "font": "Roboto, DejaVu Sans, sans-serif", "color": "#131722"},
          "encoding": {
            "x": {"datum": {"year": 2025, "month": 6, "date": 4, "hours": 17, "utc": true}, "type": "temporal"},
            "y": {"datum": 393.1, "type": "quantitative"},
            "text": {"field": "symbol"}
          }
        },
        {
          "mark": {"type": "text", "align": "left", "baseline": "alphabetic", "fontSize": 35, "font": "Roboto", "color": "#26a69a"},
          "encoding": {
            "x": {"datum": {"year": 2025, "month": 6, "date": 10, "hours": 1, "minutes": 30, "utc": true}, "type": "temporal"},
            "y": {"datum": 393.1, "type": "quantitative"},
            "text": {"field": "last"}
          }
        },
        {
          "mark": {"type": "text", "align": "left", "baseline": "alphabetic", "fontSize": 35, "font": "Roboto", "color": "#26a69a"},
          "encoding": {
            "x": {"datum": {"year": 2025, "month": 7, "date": 12, "hours": 16, "minutes": 50, "utc": true}, "type": "temporal"},
            "y": {"datum": 393.1, "type": "quantitative"},
            "text": {"field": "change"}
          }
        },
        {
          "mark": {"type": "text", "align": "left", "baseline": "alphabetic", "fontSize": 39, "font": "Roboto", "color": "#131722"},
          "encoding": {
            "x": {"datum": {"year": 2025, "month": 5, "date": 20, "hours": 10, "minutes": 4, "utc": true}, "type": "temporal"},
            "y": {"datum": 45.08, "type": "quantitative"},
            "text": {"field": "brand"}
          }
        },
        {
          "mark": {
            "type": "point",
            "shape": "M0,-14.5H29V14.5H12.5V-4.5H0Z M34,-14.5H40L42,-12.5V-6.5L40,-4.5H34L32,-6.5V-12.5Z M46,-14.5H58L46,14.5H33Z",
            "size": 4,
            "filled": true,
            "opacity": 1,
            "strokeWidth": 0,
            "color": "#131722"
          },
          "encoding": {
            "x": {"datum": {"year": 2025, "month": 5, "date": 2, "hours": 13, "minutes": 40, "utc": true}, "type": "temporal"},
            "y": {"datum": 47.0, "type": "quantitative"}
          }
        }
      ]
    }
  ]
}
